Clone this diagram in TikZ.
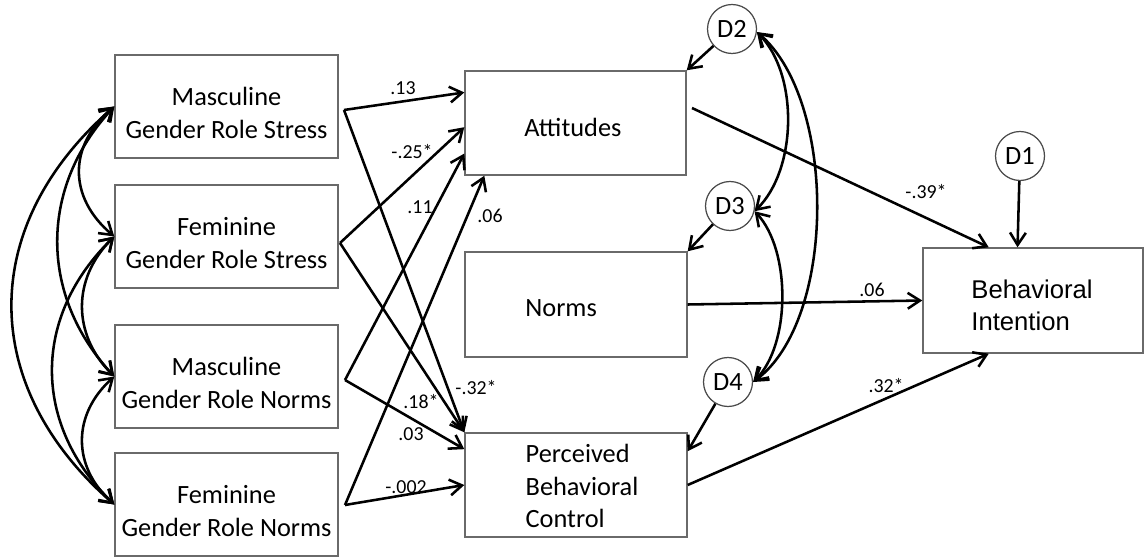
\documentclass[tikz,border=0pt]{standalone}
\usepackage{fontspec}
\setmainfont{Carlito}
\newfontfamily\arialfont{Liberation Sans}
\usetikzlibrary{arrows.meta,calc}
\definecolor{ModelBorder}{HTML}{6A6A6A}
\definecolor{ModelCircle}{HTML}{4A4A4A}

\tikzset{
  construct/.style={draw=ModelBorder,line width=0.8pt,minimum width=4.46cm,minimum height=2.06cm,inner sep=0pt},
  boxtext/.style={font=\fontsize{15}{18.6}\selectfont,inner sep=0pt},
  disturb/.style={draw=ModelCircle,circle,line width=0.7pt,minimum size=0.98cm,inner sep=0pt,font=\fontsize{15}{18}\selectfont},
  effect/.style={line width=1.45pt,-{Straight Barb[length=7pt,width=9pt]}},
  covary/.style={line width=1.45pt,{Straight Barb[length=7pt,width=9pt]}-{Straight Barb[length=7pt,width=9pt]}},
  coef/.style={font=\fontsize{11.3}{13}\selectfont,inner sep=0pt},
}

\begin{document}
\begin{tikzpicture}[x=0.02cm,y=-0.02cm]
  \useasboundingbox (0,0) rectangle (1145,560);

  % predictors
  \node[construct] (mgrs) at (226.5,106.5) {};
  \node[construct] (fgrs) at (226.5,236.5) {};
  \node[construct] (mgrn) at (226.5,376.5) {};
  \node[construct] (fgrn) at (226.5,504.5) {};
  \node[boxtext,align=center] (mgrs-t) at (226.5,113) {Masculine\\Gender Role Stress};
  \node[boxtext,align=center] (fgrs-t) at (226.5,243) {Feminine\\Gender Role Stress};
  \node[boxtext,align=center] (mgrn-t) at (226.5,383) {Masculine\\Gender Role Norms};
  \node[boxtext,align=center] (fgrn-t) at (226.5,511) {Feminine\\Gender Role Norms};

  % mediators and outcome
  \node[construct,minimum width=4.42cm,minimum height=2.08cm] (att) at (575.5,123) {};
  \node[construct,minimum width=4.44cm,minimum height=2.1cm] (norms) at (576,304.5) {};
  \node[construct,minimum width=4.44cm,minimum height=2.08cm] (pbc) at (576,485) {};
  \node[construct,minimum width=4.4cm,minimum height=2.1cm] (bi) at (1033,300.5) {};
  \node[boxtext,anchor=west] (att-t) at (524,127) {Attitudes};
  \node[boxtext,anchor=west] (norms-t) at (525,308) {Norms};
  \node[boxtext,align=left] (pbc-t) at (582,486) {Perceived\\Behavioral\\Control};
  \node[boxtext,align=left,font=\arialfont\fontsize{14.6}{18.2}\selectfont] (bi-t) at (1032,305) {Behavioral\\Intention};

  % disturbances
  \node[disturb] (d1) at (1020,156) {D1};
  \node[disturb] (d2) at (732,29) {D2};
  \node[disturb] (d3) at (730,206) {D3};
  \node[disturb] (d4) at (728,382) {D4};

  \coordinate (mgrs-o) at (344,110);
  \coordinate (fgrs-o) at (340,243);
  \coordinate (mgrn-o) at (345,380);
  \coordinate (fgrn-o) at (345,505);
  \coordinate (att-o) at (692,108);

  % covariances among predictors
  \draw[covary] (mgrs.west) .. controls (68,145.5) and (68,197.5) .. (fgrs.west);
  \draw[covary] (fgrs.west) .. controls (72,278.5) and (72,334.5) .. (mgrn.west);
  \draw[covary] (mgrn.west) .. controls (72,414.5) and (72,466.5) .. (fgrn.west);
  \draw[covary] (mgrs.west) .. controls (39,187.5) and (39,295.5) .. (mgrn.west);
  \draw[covary] (fgrs.west) .. controls (32,316.5) and (32,424.5) .. (fgrn.west);
  \draw[covary] (mgrs.west) .. controls (-22,225.5) and (-22,385.5) .. (fgrn.west);

  % paths to mediators
  \draw[effect] (mgrs-o) -- ($(att.north west)!.21!(att.south west)$);
  \draw[effect] (fgrs-o) -- ($(att.north west)!.54!(att.south west)$);
  \draw[effect] (mgrn-o) -- ($(att.north west)!.79!(att.south west)$);
  \draw[effect] (fgrn-o) -- ($(att.south west)!.09!(att.south east)$);
  \draw[effect] (mgrs-o) -- (pbc.north west);
  \draw[effect] (fgrs-o) -- (pbc.north west);
  \draw[effect] (mgrn-o) -- ($(pbc.north west)!.16!(pbc.south west)$);
  \draw[effect] (fgrn-o) -- (pbc.west);

  % paths to intention
  \draw[effect] (att-o) -- ($(bi.north west)!.3!(bi.north east)$);
  \draw[effect] (norms.east) -- (bi.west);
  \draw[effect] (pbc.east) -- ($(bi.south west)!.3!(bi.south east)$);

  % disturbance paths
  \draw[effect] (d1) -- ($(bi.north west)!.43!(bi.north east)$);
  \draw[effect] (d2) -- (att.north east);
  \draw[effect] (d3) -- (norms.north east);
  \draw[effect] (d4) -- ($(pbc.north east)!.18!(pbc.south east)$);
  \draw[covary] (d2.-7) .. controls (799,75) and (797,170) .. (d3.-12);
  \draw[covary] (d2.-7) .. controls (837,100) and (837,320) .. (d4.0);
  \draw[covary] (d3.-12) .. controls (791,250) and (791,345) .. (d4.0);

  % coefficients
  \foreach \name/\x/\y/\txt in {c1/403/88/.13, c2/412/152/-.25*, c3/420/207/.11, c4/490/216/.06,
      c5/476/388/-.32*, c6/421/402/.18*, c7/411/434/.03, c8/406/487/-.002,
      c9/926/192/-.39*, c10/872/290/.06, c11/886/386/.32*}
    \node[coef] (\name) at (\x,\y) {\txt};
\end{tikzpicture}
\end{document}
